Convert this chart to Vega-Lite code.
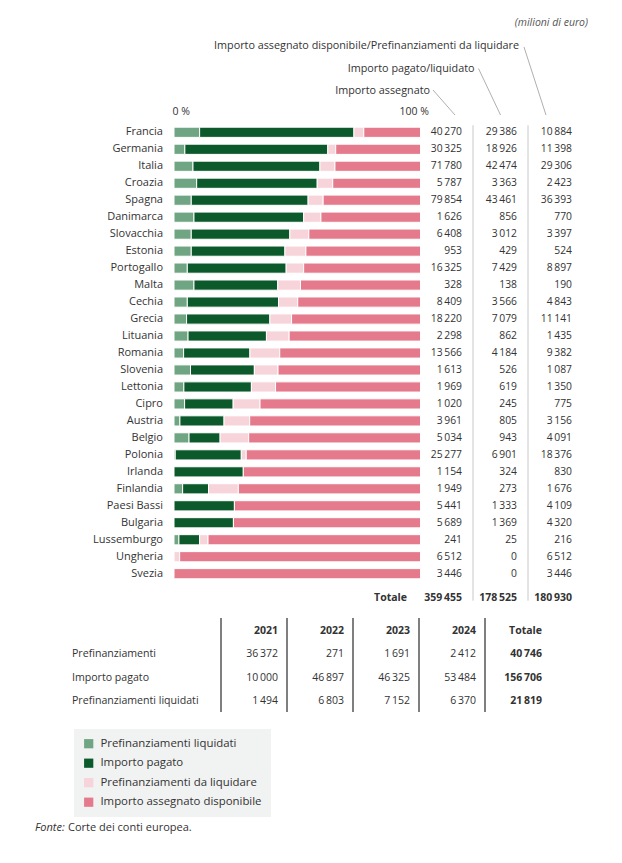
{
  "$schema": "https://vega.github.io/schema/vega-lite/v6.json",
  "width": 622,
  "height": 863,
  "autosize": {"type": "none"},
  "padding": 0,
  "background": "white",
  "config": {
    "view": {"stroke": null},
    "font": "Open Sans",
    "text": {"font": "Open Sans", "fontSize": 10, "color": "#333333", "baseline": "middle"},
    "locale": {"number": {"decimal": ",", "thousands": "\u2009", "grouping": [3], "currency": ["", " €"]}}
  },
  "title": {"text": "(milioni di euro)", "anchor": "end", "frame": "group", "font": "Open Sans", "fontStyle": "italic", "fontWeight": "normal", "fontSize": 10.5, "color": "#555555", "dx": -34, "dy": 28, "offset": 0},
  "datasets": {
    "paesi": [
      {"paese": "Francia", "assegnato": 40270, "pagato": 29386, "disp": 10884, "a_liq": 10.4, "b_pag": 62.6, "c_dal": 4.0, "d_disp": 23.0},
      {"paese": "Germania", "assegnato": 30325, "pagato": 18926, "disp": 11398, "a_liq": 4.4, "b_pag": 58.0, "c_dal": 3.2, "d_disp": 34.4},
      {"paese": "Italia", "assegnato": 71780, "pagato": 42474, "disp": 29306, "a_liq": 7.7, "b_pag": 51.5, "c_dal": 6.1, "d_disp": 34.7},
      {"paese": "Croazia", "assegnato": 5787, "pagato": 3363, "disp": 2423, "a_liq": 9.2, "b_pag": 48.9, "c_dal": 6.3, "d_disp": 35.6},
      {"paese": "Spagna", "assegnato": 79854, "pagato": 43461, "disp": 36393, "a_liq": 7.0, "b_pag": 47.4, "c_dal": 6.1, "d_disp": 39.5},
      {"paese": "Danimarca", "assegnato": 1626, "pagato": 856, "disp": 770, "a_liq": 8.1, "b_pag": 44.5, "c_dal": 7.0, "d_disp": 40.4},
      {"paese": "Slovacchia", "assegnato": 6408, "pagato": 3012, "disp": 3397, "a_liq": 7.0, "b_pag": 40.0, "c_dal": 7.7, "d_disp": 45.3},
      {"paese": "Estonia", "assegnato": 953, "pagato": 429, "disp": 524, "a_liq": 7.0, "b_pag": 38.0, "c_dal": 8.5, "d_disp": 46.5},
      {"paese": "Portogallo", "assegnato": 16325, "pagato": 7429, "disp": 8897, "a_liq": 5.4, "b_pag": 40.1, "c_dal": 7.1, "d_disp": 47.4},
      {"paese": "Malta", "assegnato": 328, "pagato": 138, "disp": 190, "a_liq": 8.1, "b_pag": 34.0, "c_dal": 9.2, "d_disp": 48.7},
      {"paese": "Cechia", "assegnato": 8409, "pagato": 3566, "disp": 4843, "a_liq": 5.4, "b_pag": 37.0, "c_dal": 7.8, "d_disp": 49.8},
      {"paese": "Grecia", "assegnato": 18220, "pagato": 7079, "disp": 11141, "a_liq": 5.1, "b_pag": 33.8, "c_dal": 8.8, "d_disp": 52.3},
      {"paese": "Lituania", "assegnato": 2298, "pagato": 862, "disp": 1435, "a_liq": 5.7, "b_pag": 31.8, "c_dal": 9.2, "d_disp": 53.3},
      {"paese": "Romania", "assegnato": 13566, "pagato": 4184, "disp": 9382, "a_liq": 3.9, "b_pag": 26.9, "c_dal": 12.1, "d_disp": 57.1},
      {"paese": "Slovenia", "assegnato": 1613, "pagato": 526, "disp": 1087, "a_liq": 6.7, "b_pag": 25.9, "c_dal": 9.6, "d_disp": 57.8},
      {"paese": "Lettonia", "assegnato": 1969, "pagato": 619, "disp": 1350, "a_liq": 4.0, "b_pag": 27.4, "c_dal": 9.8, "d_disp": 58.8},
      {"paese": "Cipro", "assegnato": 1020, "pagato": 245, "disp": 775, "a_liq": 4.3, "b_pag": 19.7, "c_dal": 10.9, "d_disp": 65.1},
      {"paese": "Austria", "assegnato": 3961, "pagato": 805, "disp": 3156, "a_liq": 2.4, "b_pag": 17.9, "c_dal": 10.4, "d_disp": 69.3},
      {"paese": "Belgio", "assegnato": 5034, "pagato": 943, "disp": 4091, "a_liq": 6.1, "b_pag": 12.6, "c_dal": 11.6, "d_disp": 69.7},
      {"paese": "Polonia", "assegnato": 25277, "pagato": 6901, "disp": 18376, "a_liq": 0.5, "b_pag": 26.8, "c_dal": 2.0, "d_disp": 70.7},
      {"paese": "Irlanda", "assegnato": 1154, "pagato": 324, "disp": 830, "a_liq": 0, "b_pag": 28.1, "c_dal": 0, "d_disp": 71.9},
      {"paese": "Finlandia", "assegnato": 1949, "pagato": 273, "disp": 1676, "a_liq": 3.5, "b_pag": 10.5, "c_dal": 12.1, "d_disp": 73.9},
      {"paese": "Paesi Bassi", "assegnato": 5441, "pagato": 1333, "disp": 4109, "a_liq": 0, "b_pag": 24.5, "c_dal": 0, "d_disp": 75.5},
      {"paese": "Bulgaria", "assegnato": 5689, "pagato": 1369, "disp": 4320, "a_liq": 0, "b_pag": 24.1, "c_dal": 0, "d_disp": 75.9},
      {"paese": "Lussemburgo", "assegnato": 241, "pagato": 25, "disp": 216, "a_liq": 2.0, "b_pag": 8.4, "c_dal": 3.4, "d_disp": 86.2},
      {"paese": "Ungheria", "assegnato": 6512, "pagato": 0, "disp": 6512, "a_liq": 0, "b_pag": 0, "c_dal": 2.3, "d_disp": 97.7},
      {"paese": "Svezia", "assegnato": 3446, "pagato": 0, "disp": 3446, "a_liq": 0, "b_pag": 0, "c_dal": 0, "d_disp": 100}
    ],
    "totali": [
      {"col": "assegnato", "valore": 359455},
      {"col": "pagato", "valore": 178525},
      {"col": "disp", "valore": 180930}
    ],
    "intestazioni": [
      {"col": "assegnato", "etichetta": "Importo assegnato"},
      {"col": "pagato", "etichetta": "Importo pagato/liquidato"},
      {"col": "disp", "etichetta": "Importo assegnato disponibile/Prefinanziamenti da liquidare"}
    ],
    "anni": [
      {"col": "2021"}, {"col": "2022"}, {"col": "2023"}, {"col": "2024"}, {"col": "Totale"}
    ],
    "tabella": [
      {"riga": "Prefinanziamenti", "col": "2021", "valore": 36372},
      {"riga": "Prefinanziamenti", "col": "2022", "valore": 271},
      {"riga": "Prefinanziamenti", "col": "2023", "valore": 1691},
      {"riga": "Prefinanziamenti", "col": "2024", "valore": 2412},
      {"riga": "Prefinanziamenti", "col": "Totale", "valore": 40746},
      {"riga": "Importo pagato", "col": "2021", "valore": 10000},
      {"riga": "Importo pagato", "col": "2022", "valore": 46897},
      {"riga": "Importo pagato", "col": "2023", "valore": 46325},
      {"riga": "Importo pagato", "col": "2024", "valore": 53484},
      {"riga": "Importo pagato", "col": "Totale", "valore": 156706},
      {"riga": "Prefinanziamenti liquidati", "col": "2021", "valore": 1494},
      {"riga": "Prefinanziamenti liquidati", "col": "2022", "valore": 6803},
      {"riga": "Prefinanziamenti liquidati", "col": "2023", "valore": 7152},
      {"riga": "Prefinanziamenti liquidati", "col": "2024", "valore": 6370},
      {"riga": "Prefinanziamenti liquidati", "col": "Totale", "valore": 21819}
    ],
    "fonte": [
      {"t": "Fonte:"},
      {"t": "Corte dei conti europea."}
    ]
  },
  "layer": [
    {
      "data": {"name": "paesi"},
      "resolve": {"scale": {"x": "independent"}},
      "layer": [
        {
          "transform": [
            {"fold": ["a_liq", "b_pag", "c_dal", "d_disp"], "as": ["seg", "pct"]},
            {"filter": "datum.pct > 0"}
          ],
          "mark": {"type": "bar", "stroke": "white", "strokeWidth": 1},
          "encoding": {
            "y": {"field": "paese", "type": "nominal", "sort": null, "axis": null,
              "scale": {"type": "band", "domain": ["Francia","Germania","Italia","Croazia","Spagna","Danimarca","Slovacchia","Estonia","Portogallo","Malta","Cechia","Grecia","Lituania","Romania","Slovenia","Lettonia","Cipro","Austria","Belgio","Polonia","Irlanda","Finlandia","Paesi Bassi","Bulgaria","Lussemburgo","Ungheria","Svezia"], "range": [123.8, 582.2], "paddingInner": 0.4, "paddingOuter": 0.2}},
            "x": {"field": "pct", "type": "quantitative", "stack": "normalize",
              "scale": {"domain": [0, 1], "range": [174, 420.5], "nice": false},
              "axis": {"orient": "top", "values": [0, 1], "labelExpr": "datum.value == 0 ? '0 %' : '100 %'", "offset": -118, "ticks": false, "domain": false, "grid": false, "title": null, "labelPadding": 2, "labelFont": "Open Sans", "labelFontSize": 10.5, "labelColor": "#333333", "labelFlush": false,
                "labelAlign": {"condition": {"test": "datum.value == 0", "value": "left"}, "value": "right"},
                "labelOffset": {"condition": {"test": "datum.value == 0", "value": -2}, "value": 8}}},
            "color": {"field": "seg", "type": "nominal",
              "scale": {"domain": ["a_liq", "b_pag", "c_dal", "d_disp"], "range": ["#6fa582", "#0c5a2c", "#f7d3da", "#e47a8b"]},
              "legend": {"orient": "none", "legendX": 74, "legendY": 729, "title": null, "fillColor": "#f1f2f2", "padding": 9, "symbolType": "square", "symbolSize": 85, "symbolStrokeWidth": 0, "symbolStrokeColor": "transparent", "symbolOpacity": 1, "labelFont": "Open Sans", "labelFontSize": 11.4, "labelColor": "#333333", "rowPadding": 6.5, "labelOffset": 6, "labelLimit": 300,
                "labelExpr": "datum.label == 'a_liq' ? 'Prefinanziamenti liquidati' : datum.label == 'b_pag' ? 'Importo pagato' : datum.label == 'c_dal' ? 'Prefinanziamenti da liquidare' : 'Importo assegnato disponibile'"}},
            "order": {"field": "seg", "sort": "ascending"}
          }
        },
        {
          "mark": {"type": "text", "align": "right", "dx": -11, "fontSize": 11},
          "encoding": {
            "y": {"field": "paese", "type": "nominal", "sort": null, "axis": null,
              "scale": {"type": "band", "domain": ["Francia","Germania","Italia","Croazia","Spagna","Danimarca","Slovacchia","Estonia","Portogallo","Malta","Cechia","Grecia","Lituania","Romania","Slovenia","Lettonia","Cipro","Austria","Belgio","Polonia","Irlanda","Finlandia","Paesi Bassi","Bulgaria","Lussemburgo","Ungheria","Svezia"], "range": [123.8, 582.2], "paddingInner": 0.4, "paddingOuter": 0.2}},
            "x": {"datum": 0, "type": "quantitative", "scale": {"domain": [0, 1], "range": [174, 420.5], "nice": false}, "axis": null},
            "text": {"field": "paese", "type": "nominal"}
          }
        },
        {
          "transform": [{"fold": ["assegnato", "pagato", "disp"], "as": ["col", "valore"]}],
          "mark": {"type": "text", "align": "right", "fontSize": 10.3},
          "encoding": {
            "y": {"field": "paese", "type": "nominal", "sort": null, "axis": null,
              "scale": {"type": "band", "domain": ["Francia","Germania","Italia","Croazia","Spagna","Danimarca","Slovacchia","Estonia","Portogallo","Malta","Cechia","Grecia","Lituania","Romania","Slovenia","Lettonia","Cipro","Austria","Belgio","Polonia","Irlanda","Finlandia","Paesi Bassi","Bulgaria","Lussemburgo","Ungheria","Svezia"], "range": [123.8, 582.2], "paddingInner": 0.4, "paddingOuter": 0.2}},
            "x": {"field": "col", "type": "nominal", "axis": null, "scale": {"type": "point", "domain": ["label", "assegnato", "pagato", "disp"], "range": [407, 572], "padding": 0}},
            "text": {"field": "valore", "type": "quantitative", "format": ",d"}
          }
        },
        {
          "data": {"name": "totali"},
          "mark": {"type": "text", "align": "right", "fontWeight": "bold", "fontSize": 10.5, "yOffset": 24},
          "encoding": {
            "y": {"datum": "Svezia", "type": "nominal", "axis": null,
              "scale": {"type": "band", "domain": ["Francia","Germania","Italia","Croazia","Spagna","Danimarca","Slovacchia","Estonia","Portogallo","Malta","Cechia","Grecia","Lituania","Romania","Slovenia","Lettonia","Cipro","Austria","Belgio","Polonia","Irlanda","Finlandia","Paesi Bassi","Bulgaria","Lussemburgo","Ungheria","Svezia"], "range": [123.8, 582.2], "paddingInner": 0.4, "paddingOuter": 0.2}},
            "x": {"field": "col", "type": "nominal", "axis": null, "scale": {"type": "point", "domain": ["label", "assegnato", "pagato", "disp"], "range": [407, 572], "padding": 0}},
            "text": {"field": "valore", "type": "quantitative", "format": ",d"}
          }
        },
        {
          "data": {"name": "totali"},
          "transform": [{"filter": "datum.col == 'assegnato'"}],
          "mark": {"type": "text", "align": "right", "fontWeight": "bold", "fontSize": 10.5, "yOffset": 24, "text": "Totale"},
          "encoding": {
            "y": {"datum": "Svezia", "type": "nominal", "axis": null,
              "scale": {"type": "band", "domain": ["Francia","Germania","Italia","Croazia","Spagna","Danimarca","Slovacchia","Estonia","Portogallo","Malta","Cechia","Grecia","Lituania","Romania","Slovenia","Lettonia","Cipro","Austria","Belgio","Polonia","Irlanda","Finlandia","Paesi Bassi","Bulgaria","Lussemburgo","Ungheria","Svezia"], "range": [123.8, 582.2], "paddingInner": 0.4, "paddingOuter": 0.2}},
            "x": {"datum": "label", "type": "nominal", "axis": null, "scale": {"type": "point", "domain": ["label", "assegnato", "pagato", "disp"], "range": [407, 572], "padding": 0}}
          }
        },
        {
          "data": {"name": "totali"},
          "transform": [{"filter": "datum.col != 'disp'"}],
          "mark": {"type": "rule", "color": "#c8c8c8", "strokeWidth": 1, "xOffset": 11, "yOffset": -7, "y2Offset": 27},
          "encoding": {
            "y": {"datum": "Francia", "type": "nominal", "axis": null,
              "scale": {"type": "band", "domain": ["Francia","Germania","Italia","Croazia","Spagna","Danimarca","Slovacchia","Estonia","Portogallo","Malta","Cechia","Grecia","Lituania","Romania","Slovenia","Lettonia","Cipro","Austria","Belgio","Polonia","Irlanda","Finlandia","Paesi Bassi","Bulgaria","Lussemburgo","Ungheria","Svezia"], "range": [123.8, 582.2], "paddingInner": 0.4, "paddingOuter": 0.2}},
            "y2": {"datum": "Svezia"},
            "x": {"field": "col", "type": "nominal", "axis": null, "scale": {"type": "point", "domain": ["label", "assegnato", "pagato", "disp"], "range": [407, 572], "padding": 0}}
          }
        }
      ]
    },
    {
      "data": {"name": "intestazioni"},
      "mark": {"type": "text", "align": "right", "fontSize": 10.8},
      "encoding": {
        "x": {"field": "col", "type": "nominal", "axis": null, "scale": {"type": "point", "domain": ["assegnato", "pagato", "disp"], "range": [430, 519], "padding": 0}},
        "y": {"field": "col", "type": "nominal", "axis": null, "scale": {"type": "point", "domain": ["assegnato", "pagato", "disp"], "range": [91, 46], "padding": 0}},
        "text": {"field": "etichetta", "type": "nominal"}
      }
    },
    {
      "data": {"name": "intestazioni"},
      "mark": {"type": "rule", "color": "#9a9a9a", "strokeWidth": 0.8, "x2Offset": 22, "y2Offset": 25},
      "encoding": {
        "x": {"field": "col", "type": "nominal", "axis": null, "scale": {"type": "point", "domain": ["assegnato", "pagato", "disp"], "range": [433, 524], "padding": 0}},
        "x2": {"field": "col"},
        "y": {"field": "col", "type": "nominal", "axis": null, "scale": {"type": "point", "domain": ["assegnato", "pagato", "disp"], "range": [90, 47], "padding": 0}},
        "y2": {"datum": "assegnato"}
      }
    },
    {
      "layer": [
        {
          "data": {"name": "anni"},
          "mark": {"type": "rule", "color": "#555555", "strokeWidth": 1.5, "xOffset": -57, "yOffset": -13, "y2Offset": 11},
          "encoding": {
            "x": {"field": "col", "type": "nominal", "axis": null, "scale": {"type": "point", "domain": ["lab", "2021", "2022", "2023", "2024", "Totale"], "range": [212, 542], "padding": 0}},
            "y": {"datum": "head", "type": "nominal", "axis": null, "scale": {"type": "point", "domain": ["head", "Prefinanziamenti", "Importo pagato", "Prefinanziamenti liquidati"], "range": [631, 701], "padding": 0}},
            "y2": {"datum": "Prefinanziamenti liquidati"}
          }
        },
        {
          "data": {"name": "anni"},
          "mark": {"type": "text", "align": "right", "fontWeight": "bold", "fontSize": 10.5},
          "encoding": {
            "x": {"field": "col", "type": "nominal", "axis": null, "scale": {"type": "point", "domain": ["lab", "2021", "2022", "2023", "2024", "Totale"], "range": [212, 542], "padding": 0}},
            "y": {"datum": "head", "type": "nominal", "axis": null, "scale": {"type": "point", "domain": ["head", "Prefinanziamenti", "Importo pagato", "Prefinanziamenti liquidati"], "range": [631, 701], "padding": 0}},
            "text": {"field": "col", "type": "nominal"}
          }
        },
        {
          "data": {"name": "tabella"},
          "mark": {"type": "text", "align": "right", "fontSize": 10.5, "fontWeight": {"expr": "datum.col == 'Totale' ? 'bold' : 'normal'"}},
          "encoding": {
            "x": {"field": "col", "type": "nominal", "axis": null, "scale": {"type": "point", "domain": ["lab", "2021", "2022", "2023", "2024", "Totale"], "range": [212, 542], "padding": 0}},
            "y": {"field": "riga", "type": "nominal", "axis": null, "scale": {"type": "point", "domain": ["head", "Prefinanziamenti", "Importo pagato", "Prefinanziamenti liquidati"], "range": [631, 701], "padding": 0}},
            "text": {"field": "valore", "type": "quantitative", "format": ",d"}
          }
        },
        {
          "data": {"name": "tabella"},
          "transform": [{"filter": "datum.col == '2021'"}],
          "mark": {"type": "text", "align": "left", "dx": -140, "fontSize": 10.6},
          "encoding": {
            "x": {"datum": "lab", "type": "nominal", "axis": null, "scale": {"type": "point", "domain": ["lab", "2021", "2022", "2023", "2024", "Totale"], "range": [212, 542], "padding": 0}},
            "y": {"field": "riga", "type": "nominal", "axis": null, "scale": {"type": "point", "domain": ["head", "Prefinanziamenti", "Importo pagato", "Prefinanziamenti liquidati"], "range": [631, 701], "padding": 0}},
            "text": {"field": "riga", "type": "nominal"}
          }
        }
      ]
    },
    {
      "data": {"name": "fonte"},
      "mark": {"type": "text", "align": "left", "fontSize": 11, "fontStyle": {"expr": "datum.t == 'Fonte:' ? 'italic' : 'normal'"}},
      "encoding": {
        "x": {"field": "t", "type": "nominal", "axis": null, "scale": {"type": "point", "domain": ["Fonte:", "Corte dei conti europea."], "range": [35, 68], "padding": 0}},
        "y": {"field": "t", "type": "nominal", "axis": null, "scale": {"type": "point", "domain": ["Fonte:", "Corte dei conti europea."], "range": [828, 828], "padding": 0}},
        "text": {"field": "t", "type": "nominal"}
      }
    }
  ],
  "resolve": {"scale": {"x": "independent", "y": "independent"}}
}
